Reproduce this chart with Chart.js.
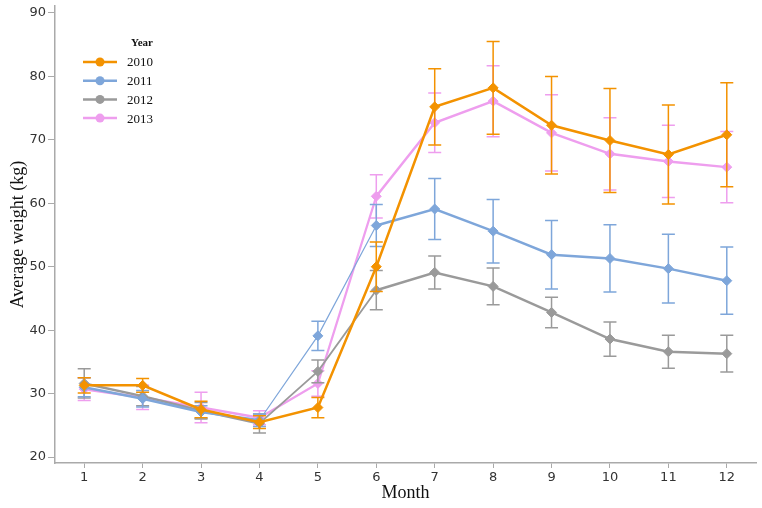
<!DOCTYPE html>
<html>
<head>
<meta charset="utf-8">
<script src="https://cdn.jsdelivr.net/npm/chart.js@4"></script>
<style>
  html, body { margin: 0; padding: 0; background: #fff; }
  #wrap { width: 762px; height: 508px; }
</style>
</head>
<body>
<div id="wrap"><canvas id="weightChart"></canvas></div>
<script>
const months = ["1", "2", "3", "4", "5", "6", "7", "8", "9", "10", "11", "12"];
const yTicks = [20, 30, 40, 50, 60, 70, 80, 90];

const years = ["2010", "2011", "2012", "2013"];
const w2010 = [31.3, 31.3, 27.5, 25.5, 27.8, 50.0, 75.2, 78.2, 72.3, 69.9, 67.7, 70.8];
const e2010 = [1.2, 1.1, 1.3, 1.0, 1.6, 3.9, 6.0, 7.3, 7.7, 8.2, 7.8, 8.2];
const w2011 = [31.0, 29.2, 27.1, 25.8, 39.1, 56.5, 59.1, 55.6, 51.9, 51.3, 49.7, 47.8];
const e2011 = [1.5, 1.3, 1.0, 1.0, 2.3, 3.3, 4.8, 5.0, 5.4, 5.3, 5.4, 5.3];
const w2012 = [31.6, 29.6, 27.3, 25.3, 33.5, 46.3, 49.1, 46.9, 42.8, 38.6, 36.6, 36.3];
const e2012 = [2.3, 1.5, 1.3, 1.5, 1.8, 3.1, 2.6, 2.9, 2.4, 2.7, 2.6, 2.9];
const w2013 = [30.7, 29.4, 27.8, 26.2, 31.6, 61.1, 72.7, 76.1, 71.1, 67.8, 66.6, 65.7];
const e2013 = [1.8, 1.9, 2.4, 1.1, 2.0, 3.4, 4.7, 5.6, 6.0, 5.7, 5.7, 5.6];

const colors = ["#F39200", "#7EA6DA", "#9A9A9A", "#EE9EEE"];

// thin segments between months 4-6 for some series, as in the original
function segWidth(thin) {
  return ctx => (ctx.p0DataIndex === 3 || ctx.p0DataIndex === 4) ? thin : 2.5;
}

function makeDataset(i, data, errors, thin) {
  return {
    label: years[i],
    data: data,
    errors: errors,
    borderColor: colors[i],
    backgroundColor: colors[i],
    borderWidth: 2.5,
    pointStyle: "rectRot",
    pointRadius: 5,
    pointHoverRadius: 5,
    pointBorderWidth: 1,
    tension: 0,
    segment: { borderWidth: segWidth(thin) }
  };
}

const errorBars = {
  id: "errorBars",
  beforeDatasetDraw(chart, args) {
    const ds = chart.data.datasets[args.index];
    const yScale = chart.scales.y;
    const ctx = chart.ctx;
    ctx.save();
    ctx.strokeStyle = ds.borderColor;
    ctx.lineWidth = 1.5;
    args.meta.data.forEach((pt, i) => {
      const v = ds.data[i];
      const e = ds.errors[i];
      const top = yScale.getPixelForValue(v + e);
      const bot = yScale.getPixelForValue(v - e);
      ctx.beginPath();
      ctx.moveTo(pt.x, top);
      ctx.lineTo(pt.x, bot);
      ctx.moveTo(pt.x - 6.5, top);
      ctx.lineTo(pt.x + 6.5, top);
      ctx.moveTo(pt.x - 6.5, bot);
      ctx.lineTo(pt.x + 6.5, bot);
      ctx.stroke();
    });
    ctx.restore();
  }
};

const yearLegend = {
  id: "yearLegend",
  afterDraw(chart) {
    const ctx = chart.ctx;
    ctx.save();
    ctx.fillStyle = "#111";
    ctx.textBaseline = "middle";
    ctx.textAlign = "center";
    ctx.font = "bold 11px 'Liberation Serif'";
    ctx.fillText("Year", 142, 43);
    ctx.textAlign = "left";
    ctx.font = "13px 'Liberation Serif'";
    chart.data.datasets.forEach((ds, i) => {
      const y = 62 + i * 18.7;
      ctx.strokeStyle = ds.borderColor;
      ctx.lineWidth = 2.5;
      ctx.beginPath();
      ctx.moveTo(83, y);
      ctx.lineTo(117, y);
      ctx.stroke();
      ctx.fillStyle = ds.borderColor;
      ctx.beginPath();
      ctx.arc(100, y, 4.5, 0, Math.PI * 2);
      ctx.fill();
      ctx.fillStyle = "#111";
      ctx.fillText(ds.label, 127, y + 1);
    });
    ctx.restore();
  }
};

window.addEventListener("DOMContentLoaded", function () {
  createChart();
});

function createChart() {
  const config = {
    type: "line",
    data: {
      labels: months,
      datasets: [
        makeDataset(0, w2010, e2010, 2.5),
        makeDataset(1, w2011, e2011, 1.2),
        makeDataset(2, w2012, e2012, 1.8),
        makeDataset(3, w2013, e2013, 2.2)
      ]
    },
    options: {
      responsive: true,
      maintainAspectRatio: false,
      animation: false,
      layout: { padding: { top: 2, right: 2, left: 0, bottom: 0 } },
      plugins: {
        legend: { display: false },
        tooltip: { enabled: false }
      },
      scales: {
        x: {
          offset: true,
          grid: { drawOnChartArea: false, drawTicks: true, tickLength: 5, color: "#aaa" },
          border: { color: "#aaa", width: 1.5 },
          ticks: { color: "#333", font: { family: "'DejaVu Sans'", size: 13 }, padding: 2, maxRotation: 0 },
          title: {
            display: true,
            text: "Month",
            color: "#111",
            font: { family: "'Liberation Serif'", size: 18 },
            padding: { top: 0, bottom: 4 }
          },
          afterFit(scale) {
            scale.height = 45;
            scale.paddingLeft = 0;
            scale.paddingRight = 0;
          }
        },
        y: {
          min: 19.06,
          max: 91.1,
          afterBuildTicks(scale) { scale.ticks = yTicks.map(v => ({ value: v })); },
          grid: { drawOnChartArea: false, drawTicks: true, tickLength: 7, color: "#aaa" },
          border: { color: "#aaa", width: 1.5 },
          ticks: { color: "#333", font: { family: "'DejaVu Sans'", size: 13 }, padding: 2 },
          title: {
            display: true,
            text: "Average weight (kg)",
            color: "#111",
            font: { family: "'Liberation Serif'", size: 18 },
            padding: { top: 7, bottom: 0 }
          },
          afterFit(scale) {
            scale.width = 55;
            scale.paddingTop = 0;
            scale.paddingBottom = 0;
          }
        }
      }
    },
    plugins: [errorBars, yearLegend]
  };
  const weightChart = new Chart(document.getElementById("weightChart"), config);
}
</script>
</body>
</html>
